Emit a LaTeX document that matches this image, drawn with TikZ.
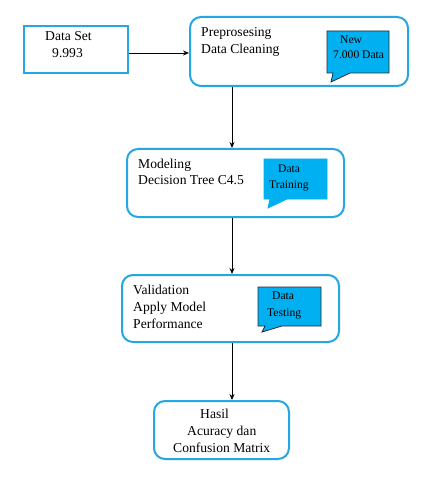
\documentclass[tikz,border=0pt]{standalone}
\usepackage{fontspec}
\setmainfont{Liberation Serif}
\usetikzlibrary{arrows.meta,calc}
\definecolor{boxblue}{RGB}{38,166,226}
\definecolor{callfill}{RGB}{0,176,240}
\definecolor{calldark}{RGB}{40,40,50}
\tikzset{
  box/.style={draw=boxblue, line width=2pt, fill=white, inner sep=0pt},
  rbox/.style={box, rounded corners=11pt},
  txt/.style={anchor=base west, inner sep=0pt, font=\fontsize{13.6}{17}\selectfont},
  stxt/.style={anchor=base west, inner sep=0pt, font=\fontsize{11.6}{13}\selectfont},
  arr/.style={-{Stealth[length=6pt,width=5pt]}, line width=0.8pt, black},
  callout/.style={fill=callfill, line width=0.8pt},
}
\begin{document}
\begin{tikzpicture}[x=1pt,y=-1pt]
\useasboundingbox[fill=white] (0,0) rectangle (427,478);
% boxes
\node[box, minimum width=104pt, minimum height=47pt] (ds) at (76,49.5) {};
\node[rbox, minimum width=218pt, minimum height=69pt] (pp) at (299,51.5) {};
\node[rbox, minimum width=217pt, minimum height=68pt] (md) at (235.5,183) {};
\node[rbox, minimum width=217pt, minimum height=67pt] (va) at (230.5,308.5) {};
\node[rbox, minimum width=135pt, minimum height=58pt] (ha) at (221.5,430) {};
% callouts
\draw[callout, draw=calldark] (327,31) -- (389,31) -- (389,73) -- (350,73) -- (331,82) -- (333,73) -- (327,73) -- cycle;
\draw[callout, draw=callfill] (264,159) -- (327,159) -- (327,199) -- (287,199) -- (268,208) -- (270,199) -- (264,199) -- cycle;
\draw[callout, draw=calldark] (258,287) -- (321,287) -- (321,326) -- (282,326) -- (262,332) -- (265,326) -- (258,326) -- cycle;
% texts
\node[txt] (t1) at (45,41) {Data Set};
\node[txt] (t2) at (52,58) {9.993};
\node[txt] (t3) at (201,37) {Preprosesing};
\node[txt] (t4) at (201,54) {Data Cleaning};
\node[stxt] (c1) at (340,44) {New};
\node[stxt] (c2) at (333,59) {7.000 Data};
\node[txt] (t5) at (138,168) {Modeling};
\node[txt] (t6) at (138,185) {Decision Tree C4.5};
\node[stxt] (c3) at (278,172) {Data};
\node[stxt] (c4) at (269,188) {Training};
\node[txt] (t7) at (133,294) {Validation};
\node[txt] (t8) at (133,311) {Apply Model};
\node[txt] (t9) at (133,328) {Performance};
\node[stxt] (c5) at (272,299) {Data};
\node[stxt] (c6) at (267,316) {Testing};
\node[txt] (t10) at (200,418) {Hasil};
\node[txt] (t11) at (187,435) {Acuracy dan};
\node[txt] (t12) at (173,452) {Confusion Matrix};
% connectors
\coordinate (ax) at (232,0);
\draw[arr] (ds.east |- 0,53) -- (pp.west |- 0,53);
\draw[arr] (pp.south -| ax) -- (md.north -| ax);
\draw[arr] (md.south -| ax) -- (va.north -| ax);
\draw[arr] (va.south -| ax) -- (ha.north -| ax);
\end{tikzpicture}
\end{document}
